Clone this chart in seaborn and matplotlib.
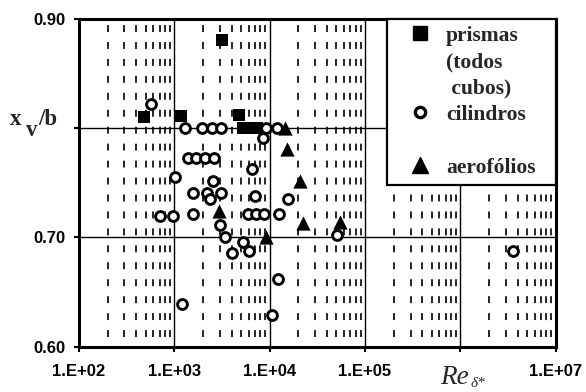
import matplotlib
matplotlib.use("Agg")
import matplotlib.pyplot as plt
import numpy as np
import pandas as pd
import seaborn as sns
from matplotlib.lines import Line2D
from matplotlib.ticker import LogLocator, FixedLocator, FixedFormatter, NullFormatter

# prismas (todos cubos)
prism_re = [481, 1175, 3160, 4775, 5260, 6230, 7380]
prism_xv = [0.810, 0.811, 0.881, 0.812, 0.800, 0.800, 0.800]

# cilindros
cyl_re = [570, 1295, 1953, 2487, 3090, 9170, 11960, 8520,
          1390, 1690, 2100, 2610, 6540, 1020, 2550,
          1570, 2200, 3090, 2370, 7030, 15600,
          708, 970, 1570, 5930, 7200, 8740, 12550,
          3020, 3400, 5260, 6080, 4030, 50960,
          12250, 1205, 10600, 3580000]
cyl_xv = [0.822, 0.800, 0.800, 0.800, 0.800, 0.800, 0.800, 0.791,
          0.773, 0.773, 0.773, 0.773, 0.763, 0.755, 0.752,
          0.741, 0.741, 0.741, 0.735, 0.738, 0.735,
          0.720, 0.720, 0.721, 0.721, 0.721, 0.721, 0.721,
          0.711, 0.700, 0.696, 0.688, 0.686, 0.702,
          0.662, 0.639, 0.629, 0.688]

# aerofólios
foil_re = [2945, 9170, 14500, 15220, 20840, 22410, 54800]
foil_xv = [0.724, 0.700, 0.800, 0.781, 0.752, 0.713, 0.714]

x_ticks = [1e2, 1e3, 1e4, 1e5, 1e6, 1e7]
x_tick_labels = ["1.E+02", "1.E+03", "1.E+04", "1.E+05", "", "1.E+07"]
y_ticks = [0.60, 0.70, 0.80, 0.90]
y_tick_labels = ["0.60", "0.70", "", "0.90"]

legend_labels = ["prismas", "(todos", " cubos)", "cilindros", "", "aerofólios"]

sns.set_theme(style="white")
plt.rcParams["lines.scale_dashes"] = False
plt.rcParams["font.family"] = ["Liberation Sans", "DejaVu Sans"]

W, H = 586, 392
fig = plt.figure(figsize=(W / 100, H / 100), dpi=100)
fig.patch.set_facecolor("white")
L, R, T, B = 79, 555.7, 18.8, 346.7
ax = fig.add_axes([L / W, 1 - B / H, (R - L) / W, (B - T) / H])
ax.set_facecolor("white")

prisms = pd.DataFrame({"re": prism_re, "xv": prism_xv})
cyls = pd.DataFrame({"re": cyl_re, "xv": cyl_xv})
foils = pd.DataFrame({"re": foil_re, "xv": foil_xv})

sns.scatterplot(data=cyls, x="re", y="xv", ax=ax, marker="o", s=50,
                facecolor="white", edgecolor="black", linewidth=2.1, zorder=4)
sns.scatterplot(data=prisms, x="re", y="xv", ax=ax, marker="s", s=85,
                color="black", edgecolor="black", linewidth=0, zorder=3)
sns.scatterplot(data=foils, x="re", y="xv", ax=ax, marker="^", s=105,
                color="black", edgecolor="black", linewidth=0, zorder=3)

ax.set_xscale("log")
ax.set_xlim(1e2, 1e7)
ax.set_ylim(0.60, 0.90)

ax.xaxis.set_major_locator(FixedLocator(x_ticks))
ax.xaxis.set_major_formatter(FixedFormatter(x_tick_labels))
ax.xaxis.set_minor_locator(LogLocator(base=10, subs=np.arange(2, 10), numticks=20))
ax.xaxis.set_minor_formatter(NullFormatter())
ax.yaxis.set_major_locator(FixedLocator(y_ticks))
ax.yaxis.set_major_formatter(FixedFormatter(y_tick_labels))

ax.grid(False)
ax.grid(which="major", axis="both", color="black", linewidth=1.0, linestyle="-", zorder=1)
ax.grid(which="minor", axis="x", color="black", linewidth=1.2,
        linestyle=(5.0, (5.0, 7.2)), zorder=1)
ax.set_axisbelow(True)

for sp in ax.spines.values():
    sp.set_visible(True)
    sp.set_color("black")
    sp.set_linewidth(2.2)

ax.tick_params(which="major", axis="both", direction="out", length=3.6, width=1.5,
               color="black", bottom=True, left=True, top=False, right=False)
ax.tick_params(which="minor", length=0)
ax.tick_params(axis="x", pad=9)
ax.tick_params(axis="y", pad=6)
for lab in ax.get_xticklabels() + ax.get_yticklabels():
    lab.set_fontsize(12)
    lab.set_fontweight("bold")
    lab.set_color("black")
ax.set_xlabel("")
ax.set_ylabel("")

handles = [
    Line2D([], [], marker="s", linestyle="none", markersize=9.4,
           markerfacecolor="black", markeredgecolor="black"),
    Line2D([], [], linestyle="none"),
    Line2D([], [], linestyle="none"),
    Line2D([], [], marker="o", linestyle="none", markersize=7.4,
           markerfacecolor="white", markeredgecolor="black", markeredgewidth=2.4),
    Line2D([], [], linestyle="none"),
    Line2D([], [], marker="^", linestyle="none", markersize=11,
           markerfacecolor="black", markeredgecolor="black"),
]
leg = ax.legend(handles, legend_labels, loc="upper left",
                bbox_to_anchor=((387 - L) / (R - L), 0, (R - 387) / (R - L), 1),
                mode="expand", borderaxespad=0, borderpad=0.33, labelspacing=0.29,
                handlelength=2.4, handletextpad=0.0, frameon=True, fancybox=False,
                framealpha=1, prop={"family": "Liberation Serif", "weight": "bold",
                                    "size": 15.5})
leg.get_frame().set_edgecolor("black")
leg.get_frame().set_linewidth(1.6)
leg.get_frame().set_facecolor("white")
leg.set_zorder(6)


def fx(px):
    return px / W


def fy(py):
    return 1 - py / H


serif_bold = {"family": "Liberation Serif", "weight": "bold", "size": 16.5}
fig.text(fx(10), fy(125), "x", ha="left", va="baseline", fontdict=serif_bold)
fig.text(fx(26), fy(136), "v", ha="left", va="baseline", fontdict=serif_bold)
fig.text(fx(38), fy(125), "/b", ha="left", va="baseline", fontdict=serif_bold)

fig.text(fx(440), fy(384), "Re", ha="left", va="baseline",
         fontdict={"family": "Liberation Serif", "style": "italic", "size": 19.5})
fig.text(fx(471), fy(387), "δ*", ha="left", va="baseline",
         fontdict={"family": "Liberation Serif", "style": "italic", "size": 11})

fig.savefig("out.png", dpi=100, facecolor="white")
